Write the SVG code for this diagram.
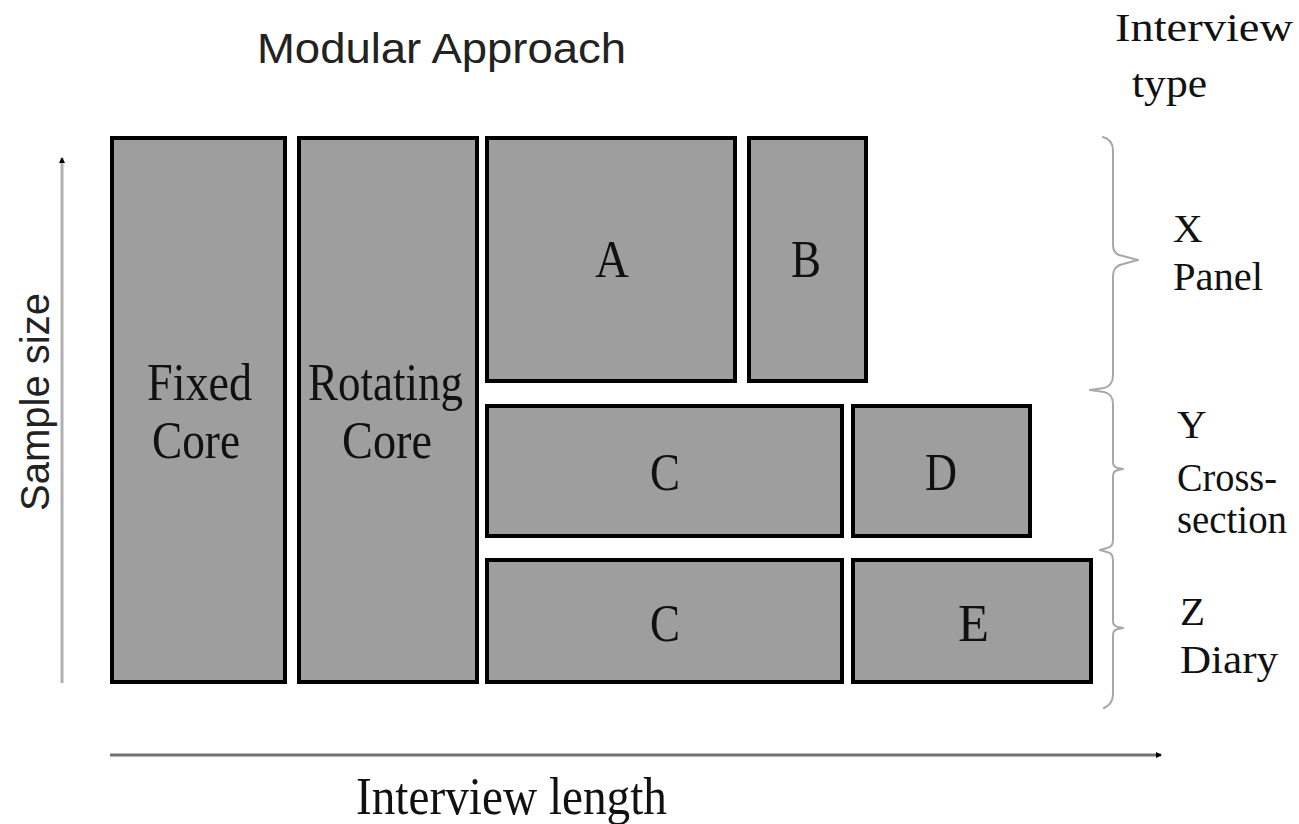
<svg xmlns="http://www.w3.org/2000/svg" width="1299" height="824" viewBox="0 0 1299 824">
  <style>
    .box { fill: #9e9e9e; stroke: #000; stroke-width: 4; }
    .lbl { font-family: "Liberation Serif", "Times New Roman", serif; font-size: 53px; fill: #111; }
    .side { font-family: "Liberation Serif", "Times New Roman", serif; font-size: 41px; fill: #111; }
    .sans { font-family: "Liberation Sans", Arial, sans-serif; fill: #222; }
    .brace { fill: none; stroke: #a8a8a8; stroke-width: 2; stroke-linejoin: round; stroke-linecap: round; }
  </style>
  <defs>
    <marker id="tip" markerWidth="6" markerHeight="6" refX="5" refY="3" orient="auto" markerUnits="userSpaceOnUse">
      <path d="M0,0 L6,3 L0,6 z" fill="#000"/>
    </marker>
  </defs>
  <rect width="1299" height="824" fill="#fff"/>

  <!-- heading -->
  <text id="title" class="sans" x="257" y="63" font-size="43" textLength="369" lengthAdjust="spacingAndGlyphs">Modular Approach</text>
  <g id="interview-type">
    <text class="side" x="1115" y="41" font-size="42" textLength="178" lengthAdjust="spacingAndGlyphs">Interview</text>
    <text class="side" x="1132" y="97" font-size="42" textLength="75" lengthAdjust="spacingAndGlyphs">type</text>
  </g>

  <!-- axes -->
  <g id="axes">
    <line x1="62" y1="683" x2="62" y2="158" stroke="#b0b0b0" stroke-width="3" marker-end="url(#tip)"/>
    <line x1="110" y1="755" x2="1161" y2="755" stroke="#707070" stroke-width="3" marker-end="url(#tip)"/>
    <text class="sans" transform="translate(49,402) rotate(-90)" text-anchor="middle" font-size="41" fill="#222" textLength="218" lengthAdjust="spacingAndGlyphs">Sample size</text>
    <text class="lbl" x="356" y="814" textLength="311" lengthAdjust="spacingAndGlyphs">Interview length</text>
  </g>

  <!-- modules -->
  <g id="fixed-core">
    <rect class="box" x="112" y="138" width="173" height="544"/>
    <text class="lbl" x="147" y="400" textLength="105" lengthAdjust="spacingAndGlyphs">Fixed</text>
    <text class="lbl" x="152" y="458" textLength="88" lengthAdjust="spacingAndGlyphs">Core</text>
  </g>
  <g id="rotating-core">
    <rect class="box" x="299" y="138" width="178" height="544"/>
    <text class="lbl" x="308" y="400" textLength="155" lengthAdjust="spacingAndGlyphs">Rotating</text>
    <text class="lbl" x="342" y="458" textLength="90" lengthAdjust="spacingAndGlyphs">Core</text>
  </g>
  <g id="module-a">
    <rect class="box" x="487" y="138" width="248" height="243"/>
    <text class="lbl" x="595" y="277" textLength="34" lengthAdjust="spacingAndGlyphs">A</text>
  </g>
  <g id="module-b">
    <rect class="box" x="749" y="138" width="117" height="243"/>
    <text class="lbl" x="791" y="277" textLength="30" lengthAdjust="spacingAndGlyphs">B</text>
  </g>
  <g id="module-c-cross">
    <rect class="box" x="487" y="406" width="355" height="130"/>
    <text class="lbl" x="650" y="490" textLength="30" lengthAdjust="spacingAndGlyphs">C</text>
  </g>
  <g id="module-d">
    <rect class="box" x="853" y="406" width="177" height="130"/>
    <text class="lbl" x="925" y="490" textLength="32" lengthAdjust="spacingAndGlyphs">D</text>
  </g>
  <g id="module-c-diary">
    <rect class="box" x="487" y="560" width="355" height="122"/>
    <text class="lbl" x="650" y="641" textLength="30" lengthAdjust="spacingAndGlyphs">C</text>
  </g>
  <g id="module-e">
    <rect class="box" x="853" y="560" width="238" height="122"/>
    <text class="lbl" x="958" y="641" textLength="31" lengthAdjust="spacingAndGlyphs">E</text>
  </g>

  <!-- braces grouping the rows by interview type -->
  <g id="braces">
    <path class="brace" d="M1103,137 Q1113,140 1113,150 L1113,245 Q1113,255 1123,256 L1138,260 L1123,264 Q1113,266 1113,276 L1113,375 Q1113,386 1104,388 L1090,390 L1104,392 Q1113,394 1113,404 L1113,462 Q1113,467 1118,468 L1123,469 L1118,470 Q1113,471 1113,476 L1113,540 Q1113,547 1107,548 L1100,550 L1107,552 Q1113,553 1113,560 L1113,621 Q1113,626 1118,627 L1123,628 L1118,629 Q1113,630 1113,635 L1113,694 Q1113,704 1104,708"/>
  </g>
  <g id="type-labels">
    <text class="side" x="1173" y="242">X</text>
    <text class="side" x="1173" y="290" textLength="90" lengthAdjust="spacingAndGlyphs">Panel</text>
    <text class="side" x="1177" y="438">Y</text>
    <text class="side" x="1177" y="491" textLength="100" lengthAdjust="spacingAndGlyphs">Cross-</text>
    <text class="side" x="1177" y="533" textLength="110" lengthAdjust="spacingAndGlyphs">section</text>
    <text class="side" x="1180" y="625">Z</text>
    <text class="side" x="1180" y="673" textLength="98" lengthAdjust="spacingAndGlyphs">Diary</text>
  </g>
</svg>
